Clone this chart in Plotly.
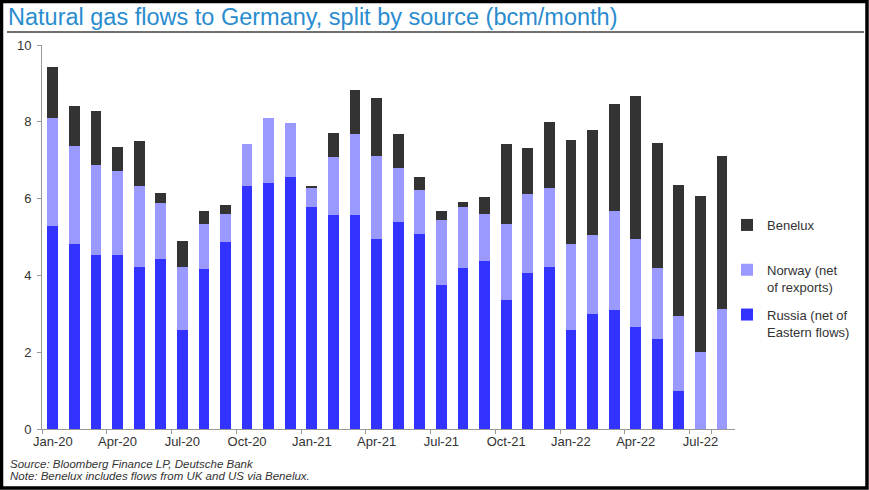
import plotly.graph_objects as go

months = ["Jan-20", "Feb-20", "Mar-20", "Apr-20", "May-20", "Jun-20", "Jul-20", "Aug-20",
          "Sep-20", "Oct-20", "Nov-20", "Dec-20", "Jan-21", "Feb-21", "Mar-21", "Apr-21",
          "May-21", "Jun-21", "Jul-21", "Aug-21", "Sep-21", "Oct-21", "Nov-21", "Dec-21",
          "Jan-22", "Feb-22", "Mar-22", "Apr-22", "May-22", "Jun-22", "Jul-22", "Aug-22"]

russia = [5.29, 4.81, 4.54, 4.53, 4.22, 4.44, 2.58, 4.17, 4.87, 6.32, 6.41, 6.55,
          5.79, 5.57, 5.58, 4.95, 5.39, 5.09, 3.75, 4.20, 4.38, 3.36, 4.06, 4.22,
          2.58, 3.00, 3.09, 2.66, 2.34, 1.00, 0.00, 0.00]
norway = [2.81, 2.56, 2.34, 2.18, 2.10, 1.45, 1.65, 1.18, 0.74, 1.10, 1.68, 1.41,
          0.49, 1.52, 2.10, 2.16, 1.41, 1.13, 1.68, 1.58, 1.23, 1.97, 2.07, 2.06,
          2.25, 2.05, 2.59, 2.28, 1.86, 1.93, 2.01, 3.13]
benelux = [1.34, 1.05, 1.39, 0.64, 1.18, 0.25, 0.66, 0.32, 0.23, 0.00, 0.00, 0.00,
           0.05, 0.63, 1.15, 1.51, 0.88, 0.34, 0.25, 0.12, 0.44, 2.09, 1.18, 1.71,
           2.70, 2.74, 2.79, 3.72, 3.26, 3.42, 4.05, 3.97]

y_ticks = [0, 2, 4, 6, 8, 10]
x_ticks = months[::3]

W, H = 869, 490
ML, MR, MT, MB = 42, 134, 45, 61
PW, PH = W - ML - MR, H - MT - MB


def px(x):
    return (x - ML) / PW


def py(y):
    return (H - MB - y) / PH


FONT = "Liberation Sans, Arial, sans-serif"

fig = go.Figure()
fig.add_trace(go.Bar(x=months, y=russia, name="Russia (net of<br>Eastern flows)",
                     marker=dict(color="#3333FF", line_width=0), legendgroup="r", legendrank=3))
fig.add_trace(go.Bar(x=months, y=norway, name="Norway (net<br>of rexports)",
                     marker=dict(color="#9999FF", line_width=0), legendgroup="n", legendrank=2))
fig.add_trace(go.Bar(x=months, y=benelux, name="Benelux<br> ",
                     marker=dict(color="#333333", line_width=0), legendgroup="b", legendrank=1))

fig.update_layout(
    width=W, height=H,
    barmode="stack", bargap=0.5,
    paper_bgcolor="white", plot_bgcolor="white",
    margin=dict(l=ML, r=MR, t=MT, b=MB, autoexpand=False),
    font=dict(family=FONT, size=13, color="#333333"),
    title=dict(text="Natural gas flows to Germany, split by source (bcm/month)",
               x=8 / W, xanchor="left", xref="container",
               y=1 - 17 / H, yanchor="middle", yref="container",
               font=dict(family=FONT, size=23.5, color="#2A8CCF")),
    showlegend=True,
    legend=dict(x=px(727), xanchor="left", y=py(210), yanchor="top",
                traceorder="grouped", tracegroupgap=8, valign="top",
                font=dict(family=FONT, size=13, color="#333333"),
                bgcolor="rgba(0,0,0,0)"),
    xaxis=dict(type="category", range=[-0.5, 31.6], tickmode="array", tickvals=x_ticks,
               tickson="boundaries", ticks="outside", ticklen=4, tickcolor="#999999",
               tickangle=0,
               showline=True, linecolor="#999999", linewidth=1, showgrid=False,
               tickfont=dict(size=13, color="#333333")),
    yaxis=dict(range=[0, 10], tickvals=y_ticks, ticks="outside", ticklen=4,
               tickcolor="#999999", showline=True, linecolor="#999999", linewidth=1,
               ticklabelstandoff=3,
               showgrid=False, zeroline=False, tickfont=dict(size=13, color="#333333")),
    shapes=[
        dict(type="line", xref="paper", yref="paper", x0=px(7), x1=px(864), y0=py(32), y1=py(32),
             line=dict(color="#707070", width=2)),
        dict(type="rect", xref="paper", yref="paper", x0=px(1.5), x1=px(867), y0=py(1.5), y1=py(488),
             line=dict(color="#000000", width=3.5)),
    ],
    annotations=[
        dict(text="<i>Source: Bloomberg Finance LP, Deutsche Bank</i>", xref="paper", yref="paper",
             x=px(8), y=py(464), xanchor="left", yanchor="middle", showarrow=False,
             font=dict(family=FONT, size=11.5, color="#333333")),
        dict(text="<i>Note: Benelux includes flows from UK and US via Benelux.</i>", xref="paper",
             yref="paper", x=px(8), y=py(476), xanchor="left", yanchor="middle", showarrow=False,
             font=dict(family=FONT, size=11.5, color="#333333")),
    ],
)

fig.write_html("out.html")
